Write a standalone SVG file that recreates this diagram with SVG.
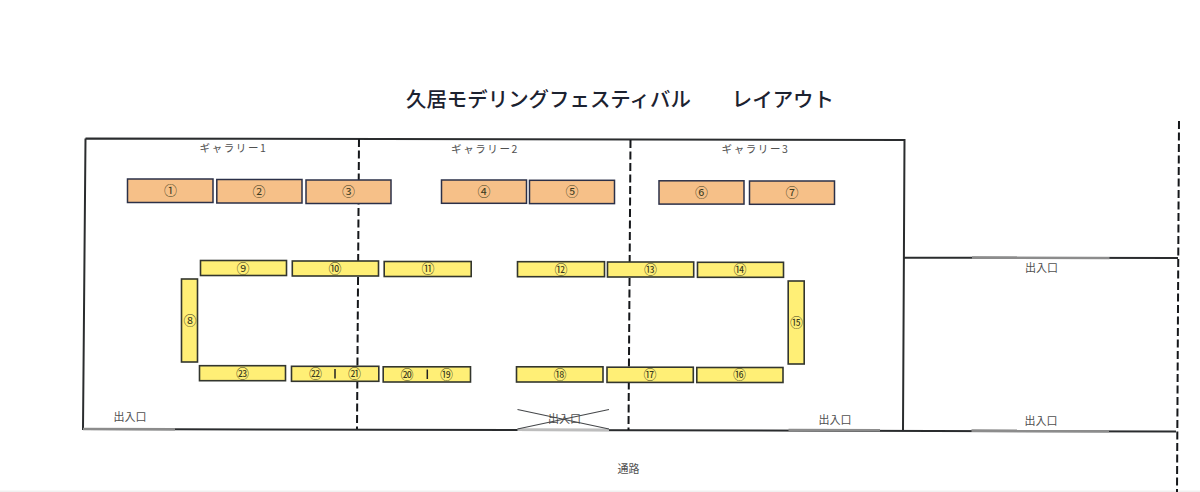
<svg xmlns="http://www.w3.org/2000/svg" width="1200" height="492" viewBox="0 0 1200 492">
<style>
text{font-family:"Noto Sans CJK JP","Noto Sans",sans-serif;text-anchor:middle;fill:#505050}
.t{font-size:20.45px;font-weight:500;fill:#1c2230;text-anchor:start}
.g{font-size:10.5px;letter-spacing:1.6px}
.e{font-size:11px}
.p{font-size:11px}
.n{font-size:13px;fill:#3a3a20}
.o{fill:#f6c088;stroke:#2b3048;stroke-width:1.5}
.y{fill:#ffef76;stroke:#33362e;stroke-width:1.6}
.w{fill:none;stroke:#2a2c2e;stroke-width:2}
.d{fill:none;stroke:#15171a;stroke-width:2;stroke-dasharray:8 3.5}
.r{fill:none;stroke:#8c8c8c;stroke-width:2.6}
.x{fill:none;stroke:#45474a;stroke-width:1.2}
.s{fill:none;stroke:#222;stroke-width:1.5}
</style>
<rect width="1200" height="492" fill="#fff"/>
<rect y="490.5" width="1200" height="1.5" fill="#f0f0f0"/>
<g id="connectors">
<path class="w" d="M85.500 138.500L904.500 140L903 431M85.500 138.500L83 429L1176 431.500M904.500 257.500L1178 258"/>
<path class="d" d="M359 139L357 429"/>
<path class="d" d="M630.500 140L628.500 430"/>
<path class="d" d="M1179 121L1177 492"/>
<path class="r" d="M83 429L175 429.300"/>
<path class="r" style="stroke:#bdbdbd" d="M517.500 429.600L609 429.800"/>
<path class="r" d="M788.500 430L880 430.200"/>
<path class="r" d="M972 257.600L1109.500 257.900"/>
<path class="r" d="M971.500 430.600L1109 430.900"/>
</g>
<text id="title" class="t" x="406" y="107">久居モデリングフェスティバル　　レイアウト</text>
<g id="labels">
<text class="g" x="233.500" y="151.500">ギャラリー1</text>
<text class="g" x="485" y="152.500">ギャラリー2</text>
<text class="g" x="755.500" y="153">ギャラリー3</text>
<text class="e" x="130" y="421">出入口</text>
<text class="e" x="564.500" y="422.500">出入口</text>
<text class="e" x="835" y="423.500">出入口</text>
<text class="e" x="1041.500" y="271.500">出入口</text>
<text class="e" x="1041" y="424.500">出入口</text>
<text class="p" x="628.500" y="472.500">通路</text>
</g>
<path id="cross" class="x" d="M517.500 409.500L609 429M609 409.500L517.500 429"/>
<g id="stall-1"><rect class="o" x="127.500" y="179" width="85.500" height="23.500"/><text class="n" x="170.500" y="195">①</text></g>
<g id="stall-2"><rect class="o" x="216.800" y="179.500" width="85.200" height="23.500"/><text class="n" x="259" y="195.500">②</text></g>
<g id="stall-3"><rect class="o" x="306" y="180" width="85" height="23.500"/><text class="n" x="348.500" y="195.500">③</text></g>
<g id="stall-4"><rect class="o" x="441.500" y="180" width="85" height="23.300"/><text class="n" x="484" y="195.500">④</text></g>
<g id="stall-5"><rect class="o" x="529.500" y="180.300" width="85" height="23.300"/><text class="n" x="572" y="196">⑤</text></g>
<g id="stall-6"><rect class="o" x="659" y="180.800" width="85" height="23.300"/><text class="n" x="701.500" y="196.500">⑥</text></g>
<g id="stall-7"><rect class="o" x="749.500" y="181" width="85" height="23.300"/><text class="n" x="792" y="196.500">⑦</text></g>
<g id="stall-8"><rect class="y" x="181.500" y="279" width="16" height="83"/><text class="n" x="190" y="324.500">⑧</text></g>
<g id="stall-9"><rect class="y" x="200.500" y="260.500" width="86" height="15"/><text class="n" x="243" y="272.500">⑨</text></g>
<g id="stall-10"><rect class="y" x="292.300" y="261" width="86.200" height="15"/><text class="n" x="335" y="273">⑩</text></g>
<g id="stall-11"><rect class="y" x="384.200" y="261.500" width="87" height="15"/><text class="n" x="428" y="273.300">⑪</text></g>
<g id="stall-12"><rect class="y" x="517.500" y="261.700" width="87" height="15"/><text class="n" x="561" y="273.500">⑫</text></g>
<g id="stall-13"><rect class="y" x="607.500" y="262" width="86.200" height="15"/><text class="n" x="650.500" y="274">⑬</text></g>
<g id="stall-14"><rect class="y" x="697.500" y="262.300" width="86" height="15"/><text class="n" x="740" y="274">⑭</text></g>
<g id="stall-15"><rect class="y" x="788.200" y="281" width="16" height="83"/><text class="n" x="796.500" y="326.500">⑮</text></g>
<g id="stall-16"><rect class="y" x="696.800" y="367.500" width="86.200" height="15"/><text class="n" x="739.500" y="379">⑯</text></g>
<g id="stall-17"><rect class="y" x="607" y="367.200" width="86.300" height="15.200"/><text class="n" x="650" y="379">⑰</text></g>
<g id="stall-18"><rect class="y" x="516.500" y="366.800" width="86.500" height="15.200"/><text class="n" x="560" y="378.500">⑱</text></g>
<g id="stall-19-20"><rect class="y" x="383.200" y="366.800" width="87.300" height="15.200"/><path class="s" d="M427.300 369.500V379"/><text class="n" x="407" y="378.500">⑳</text><text class="n" x="446.500" y="378.500">⑲</text></g>
<g id="stall-21-22"><rect class="y" x="291.500" y="366.300" width="87.300" height="15"/><path class="s" d="M335 369V378.500"/><text class="n" x="315.500" y="378">㉒</text><text class="n" x="354.500" y="378">㉑</text></g>
<g id="stall-23"><rect class="y" x="199.500" y="365.700" width="86" height="15"/><text class="n" x="242.500" y="377.500">㉓</text></g>
</svg>
